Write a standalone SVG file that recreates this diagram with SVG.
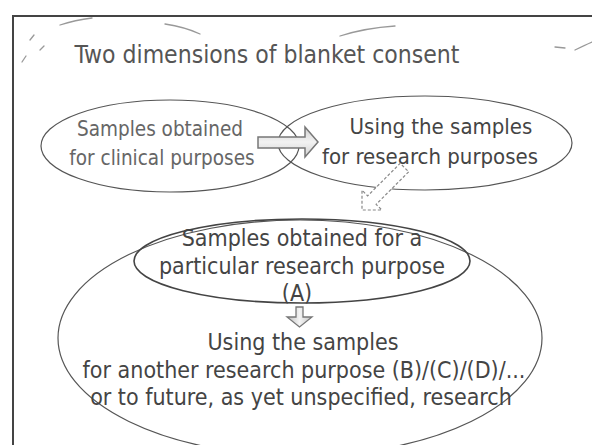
<svg xmlns="http://www.w3.org/2000/svg" width="592" height="445" viewBox="0 0 592 445">
  <defs>
    <style>
      .lbl { font-family: "DejaVu Sans Condensed", "DejaVu Sans", sans-serif; text-anchor: middle; }
      .title { font-size: 24.5px; fill: #555; }
      .soft { font-size: 20.5px; fill: #666; }
      .dark { font-size: 22px; fill: #444; }
      .big { font-size: 23px; fill: #444; }
      .oval { fill: none; stroke: #555; stroke-width: 1.2; }
      .mark { fill: none; stroke: #999; stroke-width: 1.3; stroke-linecap: round; }
    </style>
    <linearGradient id="blockFill" x1="0" y1="0" x2="0" y2="1">
      <stop offset="0" stop-color="#cfcfcf"/>
      <stop offset="0.5" stop-color="#f2f2f2"/>
      <stop offset="1" stop-color="#d2d2d2"/>
    </linearGradient>
    <linearGradient id="blockFillV" x1="0" y1="0" x2="1" y2="0">
      <stop offset="0" stop-color="#bdbdbd"/>
      <stop offset="0.5" stop-color="#f4f4f4"/>
      <stop offset="1" stop-color="#c4c4c4"/>
    </linearGradient>
  </defs>

  <rect width="592" height="445" fill="#fff"/>

  <!-- slide frame: open to the right and bottom -->
  <path d="M592 16 H13 V445" fill="none" stroke="#444" stroke-width="2"/>

  <!-- pen strokes around the heading -->
  <g id="marks">
    <path class="mark" d="M22 62 L26 56 M30 40 L34 35 M40 50 L44 46"/>
    <path class="mark" d="M60 25 Q75 20 92 18"/>
    <path class="mark" d="M165 24 Q185 27 200 34"/>
    <path class="mark" d="M340 36 Q365 28 395 26"/>
    <path class="mark" d="M555 47 L565 48 M575 50 Q585 45 592 42"/>
  </g>

  <text class="lbl title" x="267" y="63">Two dimensions of blanket consent</text>

  <g id="clinical">
    <ellipse class="oval" cx="170" cy="146" rx="129" ry="46"/>
    <text class="lbl soft" x="160" y="136">Samples obtained</text>
    <text class="lbl soft" x="162" y="165">for clinical purposes</text>
  </g>

  <g id="research-use">
    <ellipse class="oval" cx="425" cy="143" rx="147" ry="47"/>
    <text class="lbl dark" x="441" y="134">Using the samples</text>
    <text class="lbl dark" x="430" y="164">for research purposes</text>
  </g>

  <g id="scope">
    <ellipse class="oval" cx="300" cy="338" rx="242" ry="118"/>
    <text class="lbl big" x="303" y="350">Using the samples</text>
    <text class="lbl big" x="304" y="378">for another research purpose (B)/(C)/(D)/...</text>
    <text class="lbl big" x="301" y="405">or to future, as yet unspecified, research</text>
  </g>

  <g id="particular">
    <ellipse cx="302" cy="261" rx="168" ry="42" fill="none" stroke="#444" stroke-width="1.6"/>
    <text class="lbl big" x="302" y="246">Samples obtained for a</text>
    <text class="lbl big" x="302" y="274">particular research purpose</text>
    <text class="lbl big" x="297" y="301">(A)</text>
  </g>

  <g id="connectors">
    <!-- clinical -> research use -->
    <path d="M258 137 H305 V127 L318 142 L305 157 V148 H258 Z" fill="url(#blockFill)" stroke="#777" stroke-width="1.5" stroke-linejoin="miter"/>
    <!-- research use -> particular purpose (dashed outline) -->
    <path d="M0 -6 H46 V-14 L60 0 L46 14 V6 H0 Z" transform="translate(362 210) rotate(135) translate(-60 0)" fill="#fff" stroke="#888" stroke-width="1.2" stroke-dasharray="3 2"/>
    <!-- particular purpose -> other purposes -->
    <path d="M296 307 H303 V317 H312 L299.5 327 L287 317 H296 Z" fill="url(#blockFillV)" stroke="#777" stroke-width="1.3"/>
  </g>
</svg>
